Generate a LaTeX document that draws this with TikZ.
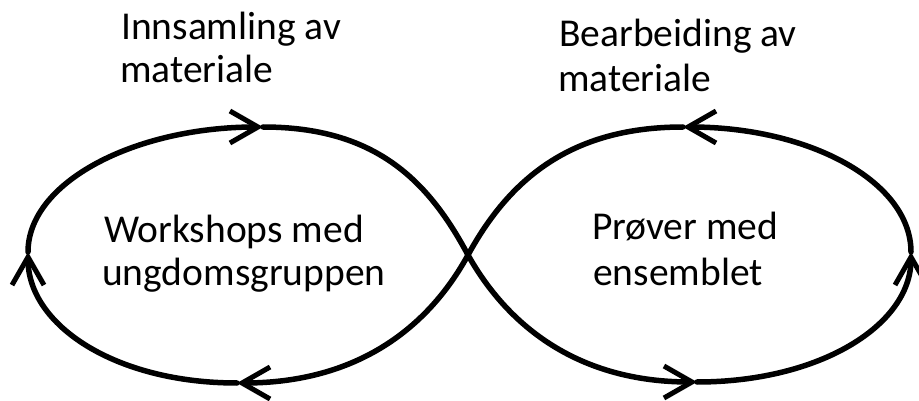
\documentclass[tikz,border=0pt]{standalone}
\usepackage{fontspec}
\setmainfont{Carlito}
\usetikzlibrary{arrows.meta}
\begin{document}
\begin{tikzpicture}[x=1pt,y=-1pt,
  loopline/.style={line width=5.5pt, line cap=round},
  arr/.style={loopline, -{Straight Barb[length=28pt, width=32pt, line width=5pt]}},
  lbl/.style={anchor=base west, inner sep=0pt, font=\fontsize{39.5}{44}\selectfont}]
\useasboundingbox (0,0) rectangle (919,401);
% key points
\coordinate (C) at (468,255);
\coordinate (T1) at (263,127);
\coordinate (L1) at (28,252);
\coordinate (B1) at (237,383);
\coordinate (T2) at (683,127);
\coordinate (R2) at (911,252);
\coordinate (B2) at (697,382);
% curve segments
\draw[loopline] (T1) .. controls (375,127) and (428,180) .. (C);
\draw[arr] (C) .. controls (509,328) and (580,382) .. (B2);
\draw[arr] (B2) .. controls (820,382) and (911,325) .. (R2);
\draw[arr] (R2) .. controls (911,182) and (810,127) .. (T2);
\draw[loopline] (T2) .. controls (570,127) and (509,180) .. (C);
\draw[arr] (C) .. controls (428,328) and (357,383) .. (B1);
\draw[arr] (B1) .. controls (115,383) and (28,325) .. (L1);
\draw[arr] (L1) .. controls (28,182) and (135,127) .. (T1);
% labels
\node[lbl] (a1) at (121,40) {Innsamling av};
\node[lbl] (a2) at (120,83) {materiale};
\node[lbl] (b1) at (559,47) {Bearbeiding av};
\node[lbl] (b2) at (558,92) {materiale};
\node[lbl] (c1) at (104,243) {Workshops med};
\node[lbl] (c2) at (102,285) {ungdomsgruppen};
\node[lbl] (d1) at (592,240) {Prøver med};
\node[lbl] (d2) at (593,285) {ensemblet};
\end{tikzpicture}
\end{document}
